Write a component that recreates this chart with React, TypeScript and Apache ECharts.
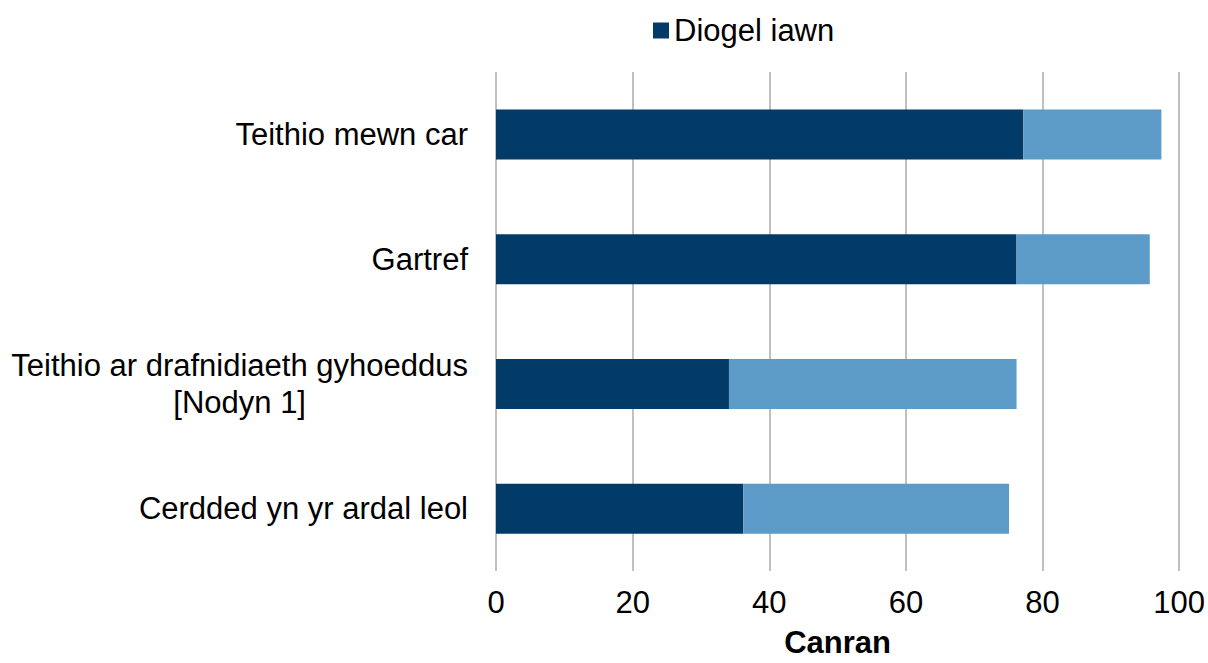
import React, { useEffect, useRef } from "react";
import * as echarts from "echarts";

const categories = [
  "Teithio mewn car",
  "Gartref",
  "Teithio ar drafnidiaeth gyhoeddus\n[Nodyn 1]",
  "Cerdded yn yr ardal leol",
];
const diogelIawn = [77.2, 76.2, 34.1, 36.2];
const eithafDiogel = [20.2, 19.5, 42.1, 38.9];
const xTicks = [0, 20, 40, 60, 80, 100];

const FONT = "'Liberation Sans', Arial, Helvetica, sans-serif";
const FS = 31;

export default function App() {
  const ref = useRef<HTMLDivElement>(null);
  useEffect(() => {
    if (!ref.current) return;
    const chart = echarts.init(ref.current, null, { renderer: "svg" });
    chart.setOption({
      animation: false,
      textStyle: { fontFamily: FONT },
      legend: {
        data: ["Diogel iawn"],
        left: 648,
        top: 10,
        itemWidth: 16,
        itemHeight: 16,
        icon: "rect",
        textStyle: { fontSize: FS, color: "#000", fontFamily: FONT },
      },
      grid: { left: 496, right: 27, top: 72, bottom: 91, containLabel: false },
      xAxis: {
        type: "value",
        min: xTicks[0],
        max: xTicks[xTicks.length - 1],
        interval: 20,
        name: "Canran",
        nameLocation: "middle",
        nameGap: 56,
        nameTextStyle: { fontSize: FS, fontWeight: "bold", color: "#000", fontFamily: FONT },
        axisLine: { show: false },
        axisTick: { show: false },
        axisLabel: { fontSize: FS, color: "#000", margin: 16, fontFamily: FONT },
        splitLine: { show: true, lineStyle: { color: "#c0c0c0", width: 2 } },
      },
      yAxis: {
        type: "category",
        data: categories,
        inverse: true,
        axisLine: { show: false },
        axisTick: { show: false },
        axisLabel: {
          margin: 28,
          fontSize: FS,
          color: "#000",
          fontFamily: FONT,
          formatter: (v: string) =>
            v
              .split("\n")
              .map((l) => `{c|${l}}`)
              .join("\n"),
          rich: {
            c: { align: "center", fontSize: FS, color: "#000", fontFamily: FONT, lineHeight: 37 },
          },
        },
      },
      series: [
        {
          name: "Diogel iawn",
          type: "bar",
          stack: "total",
          barWidth: 50,
          data: diogelIawn,
          itemStyle: { color: "#023b68" },
        },
        {
          name: "Eithaf diogel",
          type: "bar",
          stack: "total",
          barWidth: 50,
          data: eithafDiogel,
          itemStyle: { color: "#5c9ac7" },
        },
      ],
    });
    return () => chart.dispose();
  }, []);
  return (
    <div
      ref={ref}
      style={{ position: "fixed", left: 0, top: 0, width: 1208, height: 663, background: "#fff" }}
    />
  );
}
